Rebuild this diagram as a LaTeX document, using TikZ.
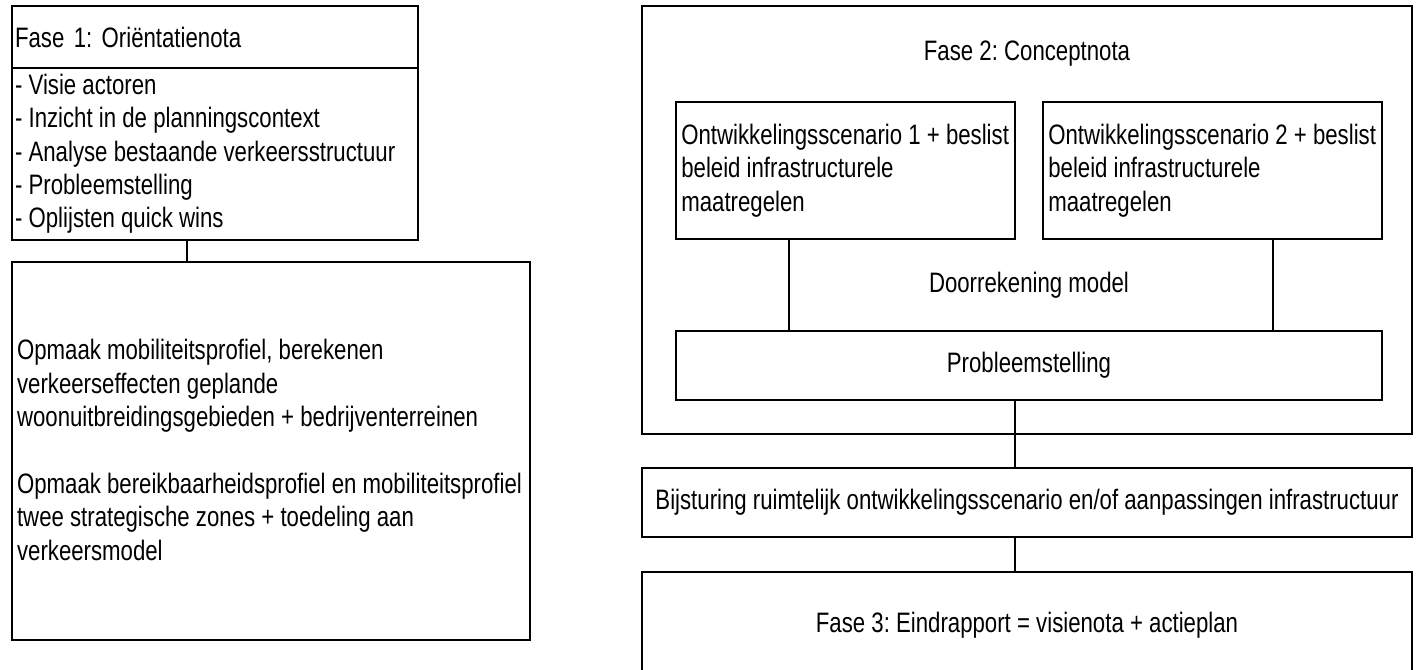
\documentclass[tikz,border=0pt]{standalone}
\usepackage{fontspec}
\setmainfont{Liberation Sans}[FakeStretch=0.79]
\usetikzlibrary{positioning}

\begin{document}
\begin{tikzpicture}[x=0.02cm, y=-0.02cm, line width=1.1pt,
	box/.style={draw, rectangle, inner sep=0pt, font=\fontsize{16}{19}\selectfont\frenchspacing},
	txt/.style={inner sep=0pt, align=left, font=\fontsize{16}{19}\selectfont\frenchspacing}]
	\path [fill=white, use as bounding box] (0,0) rectangle (1418,670);

	% Fase 1
	\node [box, minimum width=8.12cm, minimum height=1.24cm, text width=8cm, align=left] (f1title) at (215,37) {Fase 1: Oriëntatienota};
	\node [box, minimum width=8.12cm, minimum height=3.44cm] (f1body) at (215,154) {};
	\node [txt, anchor=north west] (f1list) at ([shift={(3,6)}]f1body.north west)
		{- Visie actoren\\- Inzicht in de planningscontext\\- Analyse bestaande verkeersstructuur\\- Probleemstelling\\- Oplijsten quick wins};
	\node [box, minimum width=10.36cm, minimum height=7.56cm] (opmaak) at (271,451) {};
	\node [txt, anchor=west] (opmaaktxt) at ([shift={(5,-1)}]opmaak.west)
		{Opmaak mobiliteitsprofiel, berekenen\\verkeerseffecten geplande\\woonuitbreidingsgebieden + bedrijventerreinen\\[19pt]Opmaak bereikbaarheidsprofiel en mobiliteitsprofiel\\twee strategische zones + toedeling aan\\verkeersmodel};

	% Fase 2
	\node [box, minimum width=15.4cm, minimum height=8.56cm] (fase2) at (1027,220) {};
	\node [txt] (fase2txt) at (1027,54) {Fase 2: Conceptnota};
	\node [box, minimum width=6.78cm, minimum height=2.74cm] (scen1) at (845.5,170.5) {};
	\node [box, minimum width=6.78cm, minimum height=2.74cm] (scen2) at (1212.5,170.5) {};
	\node [txt, anchor=west] (scen1txt) at ([xshift=3]scen1.west)
		{Ontwikkelingsscenario 1 + beslist\\beleid infrastructurele\\maatregelen};
	\node [txt, anchor=west] (scen2txt) at ([xshift=3]scen2.west)
		{Ontwikkelingsscenario 2 + beslist\\beleid infrastructurele\\maatregelen};
	\node [txt] (model) at (1029,285) {Doorrekening model};
	\node [box, minimum width=14.12cm, minimum height=1.38cm] (probleem) at (1029,365.5) {Probleemstelling};

	% Bijsturing en Fase 3
	\node [box, minimum width=15.4cm, minimum height=1.38cm] (bijsturing) at (1027,502.5)
		{Bijsturing ruimtelijk ontwikkelingsscenario en/of aanpassingen infrastructuur};
	\node [box, minimum width=15.4cm, minimum height=2.12cm] (fase3) at (1027,625)
		{Fase 3: Eindrapport = visienota + actieplan};

	% Verbindingen
	\coordinate (k1) at (187,0);
	\coordinate (k2) at (789,0);
	\coordinate (k3) at (1273,0);
	\coordinate (k4) at (1015,0);
	\path [-]	(k1 |- f1body.south) edge (k1 |- opmaak.north)
				(k2 |- scen1.south) edge (k2 |- probleem.north)
				(k3 |- scen2.south) edge (k3 |- probleem.north)
				(k4 |- probleem.south) edge (k4 |- bijsturing.north)
				(k4 |- bijsturing.south) edge (k4 |- fase3.north);
\end{tikzpicture}
\end{document}
